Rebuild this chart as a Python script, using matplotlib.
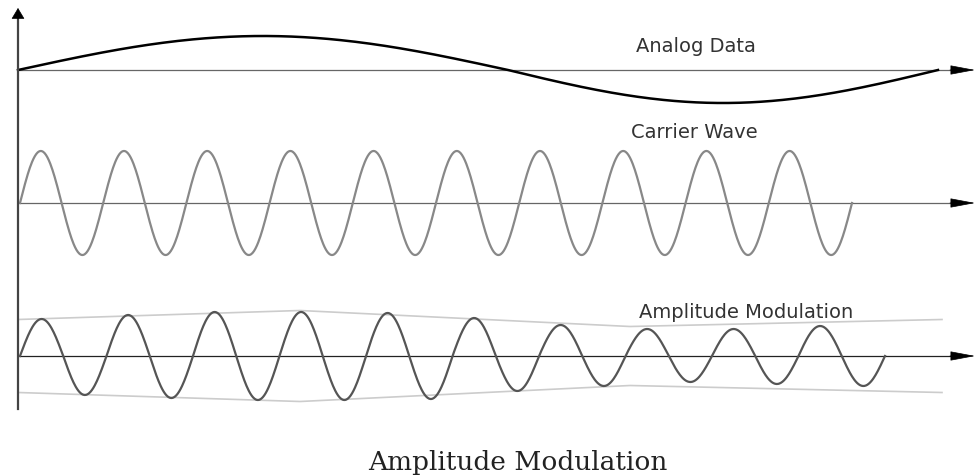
import numpy as np
import matplotlib
matplotlib.use('Agg')
import matplotlib.pyplot as plt

analog_edges = [18, 508, 938]
analog_extremes = [34, -33]

carrier_span = (20, 852)
carrier_cycles = 10
carrier_amp = 52

am_span = (20, 885)
am_extremes = [37, -39, 41, -42, 44, -44, 44, -44, 43, -43,
               38, -35, 31, -30, 27, -26, 27, -28, 30, -30]

env_x = [18, 300, 630, 942]
env_half = [36.5, 45.5, 29.5, 36.5]

labels = ['Analog Data', 'Carrier Wave', 'Amplitude Modulation']
caption = 'Amplitude Modulation'

# layout
base_analog, base_carrier, base_am = 71, 204, 357
axis_x = 18


def half_waves(edges, extremes, n=60):
    # one sine arch per half cycle, height taken from the list
    xs, ys = [], []
    for i, e in enumerate(extremes):
        u = np.linspace(0, 1, n)
        xs.append(edges[i] + u * (edges[i + 1] - edges[i]))
        ys.append(e * np.sin(np.pi * u))
    return np.concatenate(xs), np.concatenate(ys)


def even_edges(span, count):
    return np.linspace(span[0], span[1], count + 1)


fig = plt.figure(figsize=(9.75, 4.77), dpi=100)
ax = fig.add_axes([0, 0, 1, 1])
ax.set_xlim(0, 975)
ax.set_ylim(477, 0)
ax.axis('off')

# baselines with arrow heads
for base, col in [(base_analog, '#666666'), (base_carrier, '#666666'), (base_am, '#222222')]:
    ax.plot([axis_x, 953], [base, base], color=col, lw=0.9, zorder=1)
    ax.annotate('', xy=(975, base), xytext=(950, base),
                arrowprops=dict(arrowstyle='-|>,head_length=1.6,head_width=0.3',
                                color='black', lw=0.5, shrinkA=0, shrinkB=0))

# vertical axis
ax.plot([axis_x, axis_x], [410, 16], color='#444444', lw=1.6, zorder=3)
ax.annotate('', xy=(axis_x, 9), xytext=(axis_x, 20),
            arrowprops=dict(arrowstyle='-|>,head_length=0.7,head_width=0.42',
                            color='black', lw=0.5, shrinkA=0, shrinkB=0))

# analog data
x, y = half_waves(analog_edges, analog_extremes, n=200)
ax.plot(x, base_analog - y, color='black', lw=1.8, zorder=2)

# carrier
c_ext = [carrier_amp, -carrier_amp] * carrier_cycles
x, y = half_waves(even_edges(carrier_span, len(c_ext)), c_ext)
ax.plot(x, base_carrier - y, color='#888888', lw=1.6, zorder=2)

# envelope
ax.plot(env_x, base_am - np.array(env_half), color='#cccccc', lw=1.2, zorder=1)
ax.plot(env_x, base_am + np.array(env_half), color='#cccccc', lw=1.2, zorder=1)

# modulated wave
x, y = half_waves(even_edges(am_span, len(am_extremes)), am_extremes)
ax.plot(x, base_am - y, color='#555555', lw=1.6, zorder=2)

# labels
ax.text(696, 46, labels[0], ha='center', va='center', fontsize=14, color='#333333')
ax.text(694, 133, labels[1], ha='center', va='center', fontsize=14, color='#333333')
ax.text(746, 313, labels[2], ha='center', va='center', fontsize=14, color='#333333')

ax.text(518, 470, caption, ha='center', va='baseline', fontsize=19,
        family='DejaVu Serif', color='#222222')

fig.savefig('out.png', dpi=100)
